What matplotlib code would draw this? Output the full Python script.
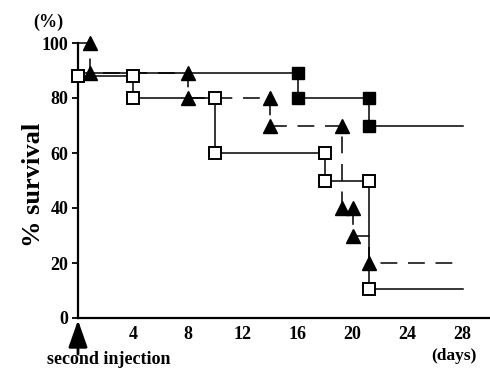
import matplotlib
matplotlib.use("Agg")
import matplotlib.pyplot as plt

# ---- data (step survival curves) ----
open_days = [0, 4, 4, 10, 10, 18, 18, 21.2, 21.2, 28]
open_surv = [88, 88, 80, 80, 60, 60, 50, 50, 10.5, 10.5]

filled_days = [0, 16, 16, 21.2, 21.2, 28]
filled_surv = [89, 89, 80, 80, 70, 70]

tri_days = [0, 0.9, 0.9, 8, 8, 14, 14, 19.2, 19.2, 20, 20, 21.2, 21.2, 28]
tri_surv = [100, 100, 89, 89, 80, 80, 70, 70, 40, 40, 30, 30, 20, 20]

x_ticks = [4, 8, 12, 16, 20, 24, 28]
y_ticks = [0, 20, 40, 60, 80, 100]

plt.rcParams['font.family'] = ['Liberation Serif', 'DejaVu Serif']
plt.rcParams['font.weight'] = 'bold'

W, H = 490, 368
fig = plt.figure(figsize=(W / 100, H / 100), dpi=100)
ax = fig.add_axes([78 / W, (H - 318) / H, 412 / W, 275 / H])

lw = 1.1
# triangles, dashed
ax.plot(tri_days, tri_surv, color='black', lw=lw, dashes=(11, 7),
        marker='^', ms=9.5, markevery=[1, 2, 3, 4, 5, 6, 7, 8, 9, 10, 12],
        mfc='black', mec='black', clip_on=False, zorder=3)
# filled squares, solid
ax.plot(filled_days, filled_surv, color='black', lw=lw,
        marker='s', ms=8.5, markevery=[1, 2, 3, 4],
        mfc='black', mec='black', clip_on=False, zorder=4)
# open squares, solid (vertical drop from 100 at day 0)
ax.plot([0] + open_days, [100] + open_surv, color='black', lw=lw,
        marker='s', ms=8.5, mew=1.4, markevery=list(range(1, 10)),
        mfc='white', mec='black', clip_on=False, zorder=5)

ax.set_xlim(0, 30)
ax.set_ylim(0, 100)
ax.set_xticks(x_ticks)
ax.set_yticks(y_ticks)
ax.set_xticklabels([str(t) for t in x_ticks], fontsize=13, fontweight='bold')
ax.set_yticklabels([str(t) for t in y_ticks], fontsize=13, fontweight='bold')
ax.tick_params(axis='x', length=0, pad=6)
ax.tick_params(axis='y', length=4, width=1.3, pad=3, direction='out')

for s in ['top', 'right']:
    ax.spines[s].set_visible(False)
for s in ['left', 'bottom']:
    ax.spines[s].set_linewidth(1.6)

ax.set_ylabel('% survival', fontsize=19, fontweight='bold')
ax.yaxis.set_label_coords((45 - 78) / 412, (318 - 185) / 275)

# arrow marking second injection
ax.annotate('', xy=(0, -0.8), xycoords='data',
            xytext=(0, -34), textcoords='offset pixels',
            arrowprops=dict(arrowstyle='-|>,head_length=1.65,head_width=0.58',
                            mutation_scale=10, lw=2, color='black',
                            shrinkA=0, shrinkB=0),
            annotation_clip=False)

fig.text(109 / W, 1 - 364 / H, 'second injection', fontsize=13,
         fontweight='bold', ha='center', va='baseline')
fig.text(454 / W, 1 - 356 / H, '(days)', fontsize=12.5,
         fontweight='bold', ha='center', va='center')
fig.text(48 / W, 1 - 22 / H, '(%)', fontsize=13,
         fontweight='bold', ha='center', va='center')

fig.savefig('out.png', dpi=100)
